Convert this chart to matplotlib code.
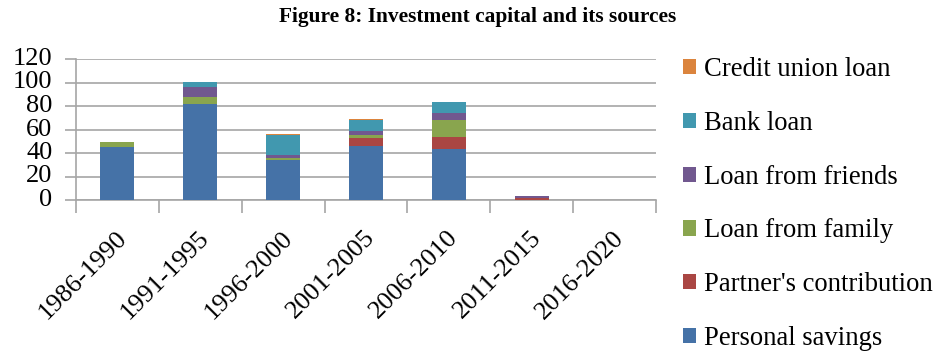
import matplotlib
matplotlib.use("Agg")
import matplotlib.pyplot as plt
import matplotlib.transforms as mtransforms
import numpy as np

categories = ["1986-1990", "1991-1995", "1996-2000", "2001-2005", "2006-2010", "2011-2015", "2016-2020"]
personal_savings = [45, 82, 34, 46, 43, 0, 0]
partners_contribution = [0, 0, 0, 7, 11, 2, 0]
loan_from_family = [4, 6, 2, 2, 14, 0, 0]
loan_from_friends = [0, 8, 2, 4, 6, 1, 0]
bank_loan = [0, 4, 17, 9, 9, 0, 0]
credit_union_loan = [0, 0, 1, 1, 0, 0, 0]

series = [
    ("Personal savings", personal_savings, "#4572A7"),
    ("Partner's contribution", partners_contribution, "#AA4643"),
    ("Loan from family", loan_from_family, "#89A54E"),
    ("Loan from friends", loan_from_friends, "#71588F"),
    ("Bank loan", bank_loan, "#4198AF"),
    ("Credit union loan", credit_union_loan, "#DB843D"),
]

plt.rcParams['font.family'] = ['Liberation Serif', 'DejaVu Serif']

fig = plt.figure(figsize=(9.4, 3.53), dpi=100)
W, H = 940, 353
ax = fig.add_axes([76 / W, 1 - 200 / H, (656 - 76) / W, (200 - 59) / H])

x = np.arange(len(categories))
bottom = np.zeros(len(categories))
handles = []
for name, vals, col in series:
    v = np.array(vals, dtype=float)
    b = ax.bar(x, v, width=0.41, bottom=bottom, color=col, edgecolor='none', label=name, zorder=3)
    handles.append(b)
    bottom += v

ax.set_xlim(-0.5, len(categories) - 0.5)
ax.set_ylim(0, 120)
ax.set_yticks(np.arange(0, 121, 20))
ax.yaxis.grid(True, color='#a6a6a6', linewidth=1.2, zorder=0)
ax.set_axisbelow(True)
for s in ['top', 'right']:
    ax.spines[s].set_visible(False)
ax.spines['left'].set_color('#a6a6a6')
ax.spines['bottom'].set_color('#a6a6a6')
ax.spines['left'].set_linewidth(1.2)
ax.spines['bottom'].set_linewidth(1.2)

ax.set_xticks(np.arange(-0.5, len(categories) + 0.5, 1))
ax.set_xticklabels([])
ax.tick_params(axis='x', which='major', length=9, color='#a6a6a6', width=1.2)
ax.set_xticks(x, minor=True)
ax.set_xticklabels(categories, minor=True, rotation=45, ha='right', va='top',
                   rotation_mode='anchor', fontsize=19)
ax.tick_params(axis='x', which='minor', length=0, pad=17)
offset = mtransforms.ScaledTranslation(-2 / 100, -3 / 100, fig.dpi_scale_trans)
for lbl in ax.xaxis.get_minorticklabels():
    lbl.set_transform(lbl.get_transform() + offset)
ax.tick_params(axis='y', length=8, color='#a6a6a6', width=1.2, labelsize=19, pad=9)
for lbl in ax.get_yticklabels():
    lbl.set_verticalalignment('center')

fig.text(478 / W, 1 - 17 / H, "Figure 8: Investment capital and its sources",
         ha='center', va='center', fontsize=15.4, fontweight='bold')

leg = fig.legend(handles[::-1], [s[0] for s in series][::-1], loc='upper left',
                 bbox_to_anchor=(683 / W, 1 - 57 / H), frameon=False, fontsize=19.2,
                 handlelength=0.5, handleheight=0.5, handletextpad=0.3,
                 labelspacing=1.08, borderaxespad=0, borderpad=0)

fig.savefig("out.png", dpi=100)
